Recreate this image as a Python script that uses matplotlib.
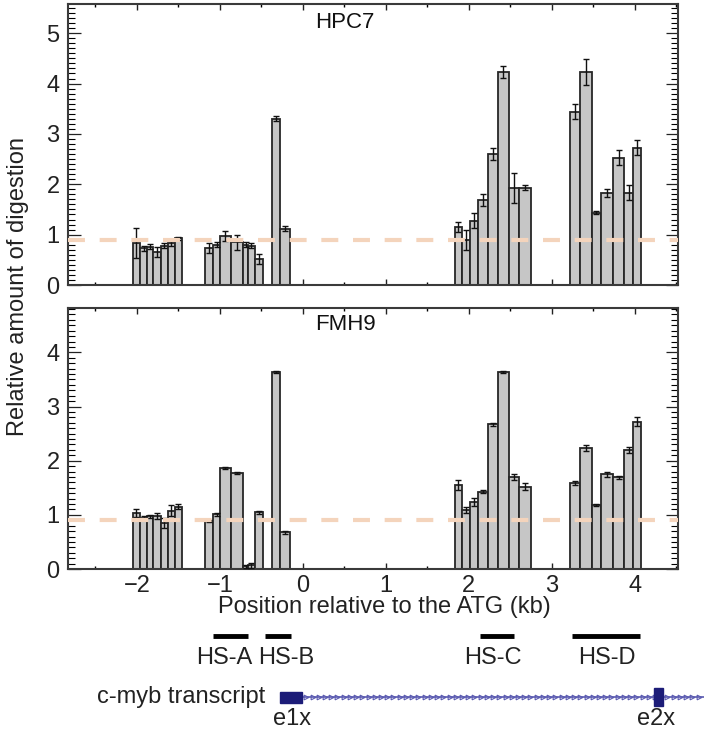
import numpy as np
import matplotlib
matplotlib.use("Agg")
import matplotlib.pyplot as plt
from matplotlib.patches import Rectangle

plt.rcParams['font.family'] = ['Liberation Sans', 'DejaVu Sans']

# ---------------- data ----------------
# fragment edges (kb relative to ATG), shared by both cell lines
frag_start = [-2.05, -1.96, -1.88, -1.80, -1.71, -1.63, -1.54,
              -1.18, -1.08, -1.00, -0.87, -0.72, -0.66, -0.58,
              -0.37, -0.27,
              1.83, 1.92, 2.01, 2.11, 2.23, 2.35, 2.48, 2.61,
              3.22, 3.34, 3.48, 3.59, 3.74, 3.87, 3.98]
frag_end = [-1.96, -1.88, -1.80, -1.71, -1.63, -1.54, -1.46,
            -1.08, -1.00, -0.87, -0.72, -0.66, -0.58, -0.48,
            -0.27, -0.16,
            1.92, 2.01, 2.11, 2.23, 2.35, 2.48, 2.61, 2.75,
            3.34, 3.48, 3.59, 3.74, 3.87, 3.98, 4.08]

hpc7_vals = [0.83, 0.73, 0.76, 0.66, 0.78, 0.83, 0.93,
             0.73, 0.80, 0.98, 0.85, 0.80, 0.78, 0.52,
             3.30, 1.12,
             1.16, 0.90, 1.28, 1.69, 2.61, 4.23, 1.92, 1.93,
             3.44, 4.23, 1.43, 1.83, 2.53, 1.83, 2.73]
hpc7_err = [0.30, 0.05, 0.05, 0.10, 0.05, 0.05, 0.03,
            0.10, 0.05, 0.10, 0.15, 0.05, 0.05, 0.10,
            0.05, 0.05,
            0.10, 0.20, 0.15, 0.12, 0.12, 0.12, 0.30, 0.05,
            0.15, 0.25, 0.03, 0.08, 0.15, 0.15, 0.15]

fmh9_vals = [1.03, 0.95, 0.97, 0.98, 0.85, 1.08, 1.15,
             0.89, 1.01, 1.87, 1.77, 0.05, 0.07, 1.05,
             3.64, 0.68,
             1.55, 1.09, 1.24, 1.43, 2.67, 3.64, 1.70, 1.52,
             1.59, 2.23, 1.18, 1.75, 1.69, 2.20, 2.72]
fmh9_err = [0.07, 0.03, 0.03, 0.05, 0.10, 0.10, 0.05,
            0.02, 0.03, 0.02, 0.02, 0.03, 0.05, 0.03,
            0.02, 0.03,
            0.10, 0.05, 0.08, 0.02, 0.03, 0.02, 0.06, 0.06,
            0.03, 0.06, 0.02, 0.05, 0.03, 0.05, 0.08]

baseline_level = 0.9

hs_names = ["HS-A", "HS-B", "HS-C", "HS-D"]
hs_start = [-1.08, -0.46, 2.13, 3.24]
hs_end = [-0.66, -0.15, 2.54, 4.06]
hs_label_x = [-0.95, -0.205, 2.29, 3.66]

exon_names = ["e1x", "e2x"]
exon_start = [-0.28, 4.23]
exon_end = [-0.01, 4.34]
exon_label_x = [-0.13, 4.25]

xticks = [-2, -1, 0, 1, 2, 3, 4]

# ---------------- figure ----------------
W, H = 704, 734
FS = 17
TXT = '#222222'
fig = plt.figure(figsize=(W / 100, H / 100), dpi=100)
XL = (-2.83, 4.52)

ax1 = fig.add_axes([68 / W, 1 - 285 / H, 610 / W, 281 / H])
ax2 = fig.add_axes([68 / W, 1 - 569 / H, 610 / W, 261 / H])

starts = np.array(frag_start)
ends = np.array(frag_end)
widths = ends - starts
centers = (starts + ends) / 2

for ax, vals, errs, ymax, name in [(ax1, hpc7_vals, hpc7_err, 5.58, "HPC7"),
                                   (ax2, fmh9_vals, fmh9_err, 4.82, "FMH9")]:
    ax.bar(starts, vals, width=widths, align='edge', color='#c6c6c6',
           edgecolor='#262626', linewidth=1.3, zorder=2)
    ax.errorbar(centers, vals, yerr=errs, fmt='none', ecolor='#111111',
                elinewidth=1.0, capsize=2, capthick=1.0, zorder=4)
    ax.axhline(baseline_level, color='#f4d4bc', lw=3, dashes=(4.07, 3.53), zorder=5)
    ax.set_xlim(*XL)
    ax.set_ylim(0, ymax)
    ax.set_yticks(np.arange(0, int(ymax) + 1))
    ax.set_yticks(np.arange(0, ymax, 0.1), minor=True)
    ax.set_xticks(xticks)
    ax.set_xticks(np.arange(-2.5, 4.6, 0.5), minor=True)
    ax.tick_params(axis='y', which='major', direction='in', length=9, width=0.9,
                   left=True, right=True, labelsize=FS, colors=TXT, pad=6)
    ax.tick_params(axis='y', which='minor', direction='in', length=5, width=0.8,
                   left=True, right=True)
    ax.tick_params(axis='x', which='major', direction='in', length=4, width=1,
                   top=True, bottom=True, labelsize=FS, colors=TXT, pad=4)
    ax.tick_params(axis='x', which='minor', direction='in', length=2.5, width=1,
                   top=True, bottom=True)
    for sp in ax.spines.values():
        sp.set_linewidth(1.5)
        sp.set_color('#3a3a3a')
    ax.text(0.454, 0.935, name, transform=ax.transAxes, ha='center', va='center',
            fontsize=16, color='#111111')

ax1.tick_params(axis='x', labelbottom=False)

fig.text(18 / W, 1 - 286 / H, "Relative amount of digestion", rotation=90,
         ha='center', va='center', fontsize=FS, color=TXT)
fig.text(384 / W, 1 - 607 / H, "Position relative to the ATG (kb)",
         ha='center', va='center', fontsize=FS, color=TXT)

# ---------------- annotation strip ----------------
ann = fig.add_axes([68 / W, 0, 636 / W, 114 / H])
ann.set_xlim(-2.83, 4.83)
ann.set_ylim(734, 620)
ann.set_axis_off()

ann.hlines([636] * len(hs_names), hs_start, hs_end, color='black', lw=3.5)
for nm, lx in zip(hs_names, hs_label_x):
    ann.text(lx, 658, nm, ha='center', va='center', fontsize=FS, color=TXT)

line_col = '#5a5ab0'
ann.plot([exon_end[0], 4.83], [697, 697], color=line_col, lw=1.2, zorder=1)
chev = np.arange(exon_end[0] + 0.05, 4.83, 0.075)
ann.plot(chev, [697] * len(chev), linestyle='none', marker='>', markersize=3.4,
         markerfacecolor='none', markeredgecolor=line_col, markeredgewidth=0.8, zorder=1)
heights = [(692, 703), (688, 706)]
for s, e, (y0, y1) in zip(exon_start, exon_end, heights):
    ann.add_patch(Rectangle((s, y0), e - s, y1 - y0, facecolor='#1c1c78',
                            edgecolor='#1c1c78', zorder=3))
for nm, lx in zip(exon_names, exon_label_x):
    ann.text(lx, 719, nm, ha='center', va='center', fontsize=FS, color=TXT)
ann.text(-0.45, 697, "c-myb transcript", ha='right', va='center', fontsize=FS,
         color=TXT)

fig.savefig("out.png", dpi=100)
